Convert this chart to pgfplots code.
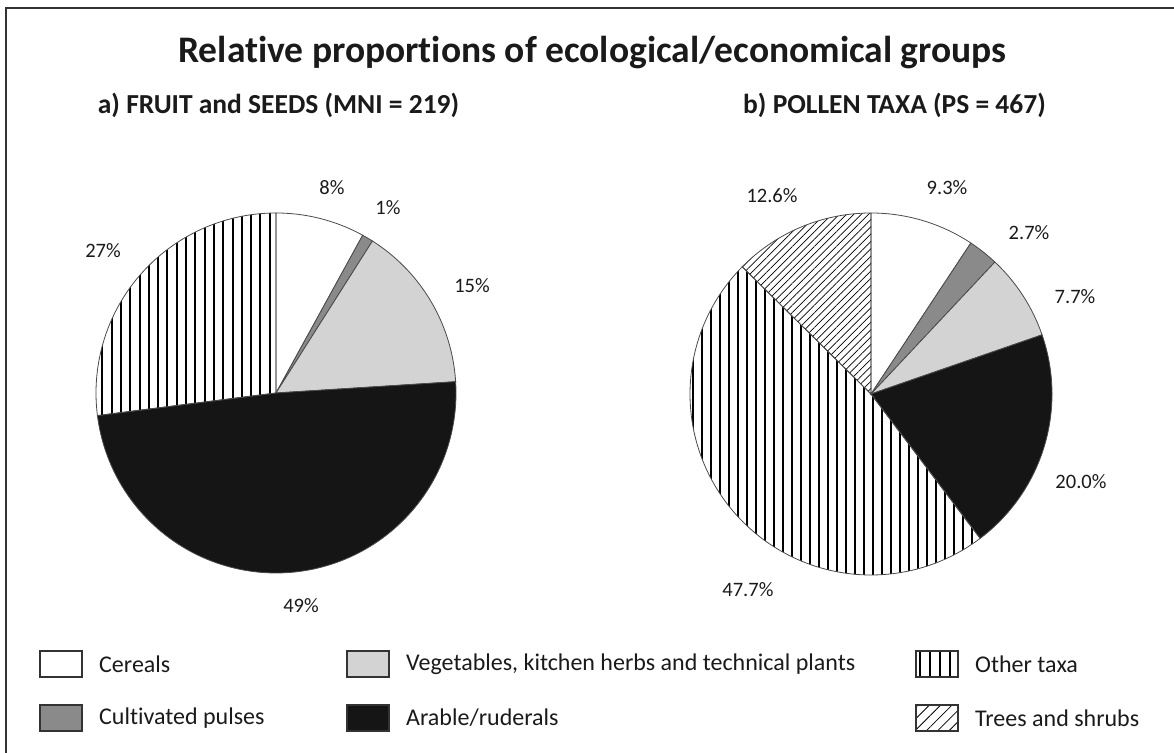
\documentclass[border=0pt]{standalone}
\usepackage{fontspec}
\setmainfont{Carlito}[Ligatures=NoCommon]
\usepackage{pgfplots}
\pgfplotsset{compat=1.18}
\usetikzlibrary{patterns.meta}

\definecolor{pulses}{HTML}{8A8A8A}
\definecolor{veg}{HTML}{D3D3D3}
\definecolor{arable}{HTML}{151515}
\definecolor{edge}{HTML}{4A4A4A}
\definecolor{ink}{HTML}{1A1A1A}
\definecolor{frame}{HTML}{333333}

\tikzset{
  wedge/.style={draw=edge, line width=0.8pt},
  s cereal/.style={wedge, fill=white},
  s pulses/.style={wedge, fill=pulses},
  s veg/.style={wedge, fill=veg},
  s arable/.style={wedge, fill=arable},
  s other/.style={wedge, pattern={Lines[angle=90,distance=9.3pt,line width=2pt]}, pattern color=black},
  s other thin/.style={wedge, pattern={Lines[angle=90,distance=9pt,line width=1.6pt]}, pattern color=black},
  s trees/.style={wedge, pattern={Lines[angle=45,distance=5.2pt,line width=0.7pt]}, pattern color=black},
  pct/.style={font=\fontsize{20.5}{24}\selectfont, text=ink},
}

% running total (in percent) of the slices drawn so far
\gdef\piecum{0}
% #1 = share in percent, #2 = style; slices run clockwise from 12 o'clock
\newcommand\pieslice[2]{%
  \pgfmathsetmacro\angA{90-3.6*\piecum}%
  \pgfmathsetmacro\angB{90-3.6*(\piecum+#1)}%
  \edef\next{\noexpand\addplot[\unexpanded{#2}, mark=none, domain=\angB:\angA,
      samples=120, variable=\noexpand\t]
      ({cos(\noexpand\t)},{sin(\noexpand\t)}) -- (axis cs:0,0) -- cycle;}%
  \next
  \pgfmathsetmacro\piecumnew{\piecum+#1}%
  \global\let\piecum\piecumnew
}

\pgfplotsset{
  pieaxis/.style={anchor=center, xmin=-1.4, xmax=1.4, ymin=-1.4, ymax=1.4,
    hide axis, clip=false},
}

\newcommand\legkey[4]{% x of box, y centre, style, text
  \draw[#3, line width=1.2pt, draw=frame] (#1,#2-13) rectangle (#1+42,#2+13);
  \node[anchor=west, inner sep=0pt, font=\fontsize{24}{28}\selectfont, text=ink]
    at (#1+59,#2) {#4};
}

\begin{document}
\begin{tikzpicture}[x=1pt, y=1pt]
\useasboundingbox (0,0) rectangle (1174,752);
\draw[frame, line width=2pt] (6,-20) -- (6,744) -- (1190,744);

\node[anchor=base, inner sep=0pt, font=\fontsize{37.5}{44}\selectfont\bfseries, text=ink]
  at (592.5,689) {Relative proportions of ecological/economical groups};
\node[anchor=base, inner sep=0pt, font=\fontsize{27.5}{32}\selectfont\bfseries, text=ink]
  at (278.5,638) {a) FRUIT and SEEDS (MNI = 219)};
\node[anchor=base, inner sep=0pt, font=\fontsize{27.5}{32}\selectfont\bfseries, text=ink]
  at (894.5,638) {b) POLLEN TAXA (PS = 467)};

% a) fruit and seeds
\begin{axis}[pieaxis, at={(276pt,359pt)}, x=180pt, y=180pt]
  \gdef\piecum{0}
  \pieslice{8}{s cereal}
  \pieslice{1}{s pulses}
  \pieslice{15}{s veg}
  \pieslice{49}{s arable}
  \pieslice{27}{s other}
  \node[pct] at (axis cs:0.311,1.139) {8\%};
  \node[pct] at (axis cs:0.622,1.028) {1\%};
  \node[pct] at (axis cs:1.089,0.594) {15\%};
  \node[pct] at (axis cs:0.139,-1.183) {49\%};
  \node[pct] at (axis cs:-0.961,0.789) {27\%};
\end{axis}

% b) pollen taxa
\begin{axis}[pieaxis, at={(871pt,358pt)}, x=181pt, y=181pt]
  \gdef\piecum{0}
  \pieslice{9.3}{s cereal}
  \pieslice{2.7}{s pulses}
  \pieslice{7.7}{s veg}
  \pieslice{20.0}{s arable}
  \pieslice{47.7}{s other thin}
  \pieslice{12.6}{s trees}
  \node[pct] at (axis cs:0.420,1.138) {9.3\%};
  \node[pct] at (axis cs:0.873,0.890) {2.7\%};
  \node[pct] at (axis cs:1.127,0.536) {7.7\%};
  \node[pct] at (axis cs:1.160,-0.486) {20.0\%};
  \node[pct] at (axis cs:-0.680,-1.083) {47.7\%};
  \node[pct] at (axis cs:-0.547,1.094) {12.6\%};
\end{axis}

% legend
\legkey{40}{88}{fill=white}{Cereals}
\legkey{40}{34}{fill=pulses}{Cultivated pulses}
\legkey{347}{88}{fill=veg}{Vegetables, kitchen herbs and technical plants}
\legkey{347}{34}{fill=arable}{Arable/ruderals}
\legkey{916}{88}{pattern={Lines[angle=90,distance=10pt,line width=1.5pt]}, pattern color=black}{Other taxa}
\legkey{916}{34}{pattern={Lines[angle=45,distance=8pt,line width=0.8pt]}, pattern color=black}{Trees and shrubs}
\end{tikzpicture}
\end{document}
